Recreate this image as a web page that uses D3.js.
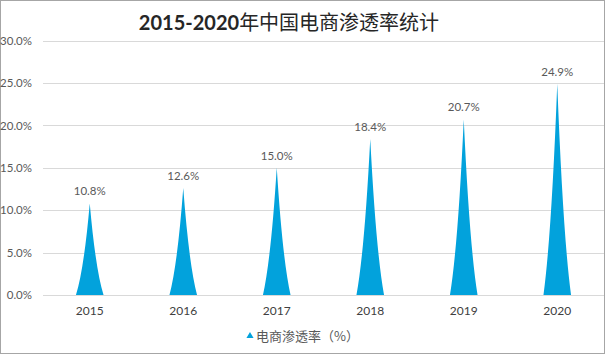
<!DOCTYPE html>
<html><head><meta charset="utf-8">
<script src="https://cdn.jsdelivr.net/npm/d3@7"></script>
<style>
html,body{margin:0;padding:0;background:#fff;}
svg{display:block;}
</style></head>
<body>
<script>
const years = ["2015","2016","2017","2018","2019","2020"];
const rates = [10.8, 12.6, 15.0, 18.4, 20.7, 24.9];
const yTicks = [0, 5, 10, 15, 20, 25, 30];
const title = "2015-2020年中国电商渗透率统计";
const seriesName = "电商渗透率（%）";

const W = 606, H = 355;
const svg = d3.select("body").append("svg").attr("width", W).attr("height", H);
svg.append("rect").attr("x",0.5).attr("y",0.5).attr("width",W-2).attr("height",H-2)
  .attr("fill","#fff").attr("stroke","#a6a6a6");

const plot = {l:43, r:604, t:40.5, b:295};
const x = d3.scaleBand().domain(years).range([plot.l, plot.r]);
const y = d3.scaleLinear().domain([0,30]).range([plot.b, plot.t]);

const num = "Lato, 'Noto Sans CJK SC', sans-serif";

// gridlines
svg.append("g").selectAll("line").data(yTicks).join("line")
  .attr("x1", plot.l).attr("x2", plot.r)
  .attr("y1", d=>Math.round(y(d))+0.5).attr("y2", d=>Math.round(y(d))+0.5)
  .attr("stroke","#d9d9d9").attr("stroke-width",1);

// y axis labels
const yAxis = d3.axisLeft(y).tickValues(yTicks).tickFormat(d=>d.toFixed(1)+"%").tickSize(0).tickPadding(0);
const ga = svg.append("g").attr("transform",`translate(${plot.l-11},0)`).call(yAxis);
ga.select(".domain").remove();
ga.selectAll("text").attr("font-family",num).attr("font-size",11.5).attr("fill","#595959");

// x axis labels
const xAxis = d3.axisBottom(x).tickSize(0).tickPadding(0);
const gx = svg.append("g").attr("transform",`translate(0,${plot.b+11})`).call(xAxis);
gx.select(".domain").remove();
gx.selectAll("text").attr("font-family",num).attr("font-size",12).attr("fill","#404040");

// spikes
const bw = x.bandwidth()*0.295;
function spike(d, i){
  const cx = x(years[i]) + x.bandwidth()/2;
  const y0 = y(0), yt = y(d);
  const h = y0 - yt, hw = bw/2;
  return `M${cx-hw},${y0} Q${cx-hw*0.42},${y0-h*0.28} ${cx},${yt} Q${cx+hw*0.42},${y0-h*0.28} ${cx+hw},${y0} Z`;
}
svg.append("g").selectAll("path").data(rates).join("path")
  .attr("d", spike).attr("fill","#02A2DC");

// data labels
svg.append("g").selectAll("text").data(rates).join("text")
  .attr("x",(d,i)=>x(years[i])+x.bandwidth()/2)
  .attr("y",d=>y(d)-8)
  .attr("text-anchor","middle")
  .attr("font-family",num).attr("font-size",11.5).attr("fill","#595959")
  .text(d=>d.toFixed(1)+"%");

// title
svg.append("text").attr("x",289).attr("y",30).attr("text-anchor","middle")
  .attr("font-family","Lato, 'Noto Sans CJK SC', sans-serif").attr("font-weight","bold")
  .attr("font-size",20).attr("fill","#262626")
  .selectAll("tspan").data([["2015-2020","bold"],["年中国电商渗透率统计","normal"]]).join("tspan")
  .attr("font-weight",d=>d[1]).attr("font-family",(d,i)=>i? "'Noto Sans CJK SC', sans-serif":num).text(d=>d[0]);

// legend
const lg = svg.append("g").attr("transform","translate(250,336)");
lg.append("path").attr("d",d3.symbol(d3.symbolTriangle, 22)()).attr("fill","#02A2DC").attr("transform","translate(0,0)");
lg.append("text").attr("x",6).attr("y",4.5).attr("font-family","'Noto Sans CJK SC', sans-serif")
  .attr("font-size",13).attr("fill","#595959").text(seriesName);
</script>
</body></html>
